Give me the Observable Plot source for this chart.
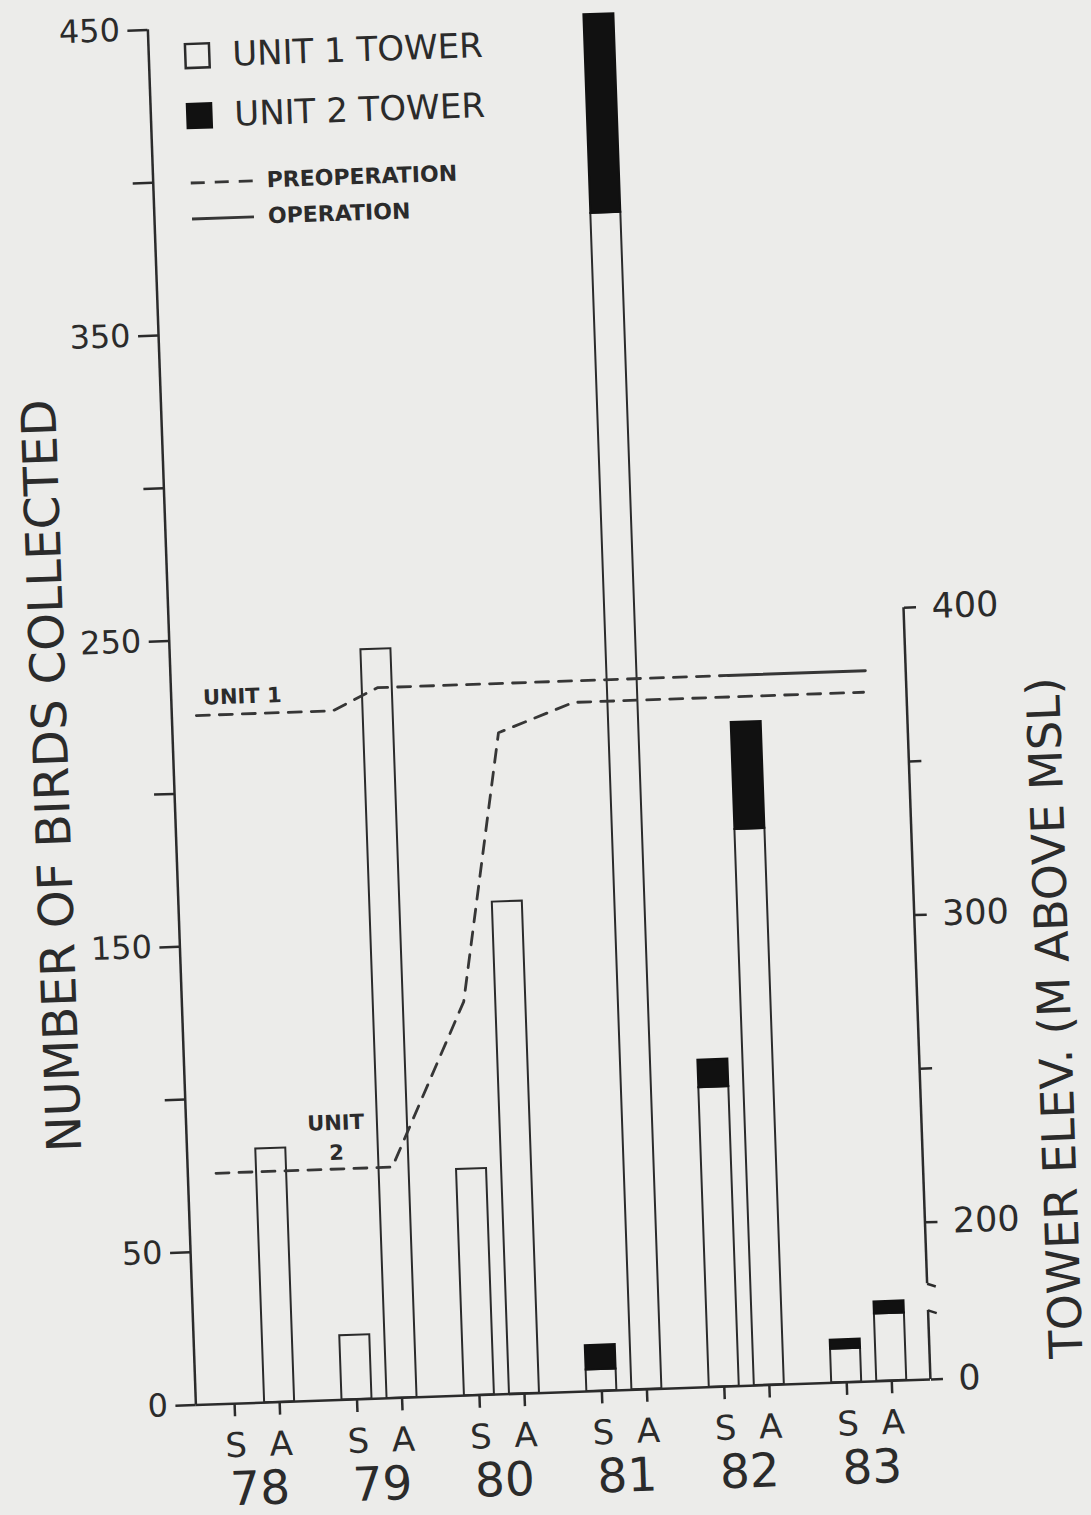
<!DOCTYPE html>
<html>
<head>
<meta charset="utf-8">
<script src="https://cdn.jsdelivr.net/npm/d3@7"></script>
<script src="https://cdn.jsdelivr.net/npm/@observablehq/plot@0.6"></script>
<style>
  html, body { margin: 0; padding: 0; background: #ececea; overflow: hidden; }
  #fig { position: relative; width: 1091px; height: 1515px;
         transform: rotate(-2deg); transform-origin: 545px 757px; }
  #fig svg { overflow: visible; }
  #legend { position: absolute; left: 0; top: 0; }
</style>
</head>
<body>
<div id="fig"></div>
<script>
// ---------------- data ----------------
const years = [78, 79, 80, 81, 82, 83];
const seasons = ["S", "A"];
// birds collected per period: 78S,78A,79S,79A,80S,80A,81S,81A,82S,82A,83S,83A
const unit1Birds = [0, 83, 21, 245, 74, 161, 7, 385, 98, 182, 11, 22];
const unit2Birds = [0, 0, 0, 0, 0, 0, 8, 65, 9, 35, 3, 4];

// tower elevation lines (m above MSL) at positions in fractional years
const unit1PreX    = [77.7, 78.815, 79.185, 82.05];
const unit1PreElev = [373, 373, 380, 380];
const unit1OpX     = [82.05, 83.17];
const unit1OpElev  = [380, 380];
const unit2PreX    = [77.73, 79.17, 79.8, 80.16, 80.78, 83.15];
const unit2PreElev = [224, 224, 277, 364, 373, 373];

// axis ticks
const leftTicks  = [0, 50, 100, 150, 200, 250, 300, 350, 400, 450];
const leftLabels = [0, 50, 150, 250, 350, 450];
const rightTicks  = [0, 200, 250, 300, 350, 400];
const rightLabels = [0, 200, 300, 400];

// line labels (year position, elevation)
const lineLabelText = ["UNIT 1", "UNIT\n2"];
const lineLabelX    = [78.08, 78.72];
const lineLabelElev = [379.6, 235];

const legendLabels = ["UNIT 1 TOWER", "UNIT 2 TOWER", "PREOPERATION", "OPERATION"];
const yTitle = "NUMBER OF BIRDS COLLECTED";
const y2Title = "TOWER ELEV. (M ABOVE MSL)";

// ---------------- scales helpers ----------------
const seasonOffset = 0.184;   // S / A position within a year
const barHalf = 0.1225;       // half bar width (years)
const xDomain = [77.5, 83.5];
// right (elevation) axis drawn on bird scale: 200 m -> 51.4, 400 m -> 252.5, broken below 180 m
const elevB200 = 51.4, elevK = (252.5 - 51.4) / 200;
const elevToY = e => e === 0 ? 0 : elevB200 + (e - 200) * elevK;
const axisBreakLowerTop = 22.6;   // top of the short bottom segment (bird units)
const axisBreakUpperElev = 180;   // bottom of the upper segment (m)

const BG = "#ececea", INK = "#2b2b2b", LINE = "#363636";

const bars = years.flatMap(y => seasons.map(s => ({year: y, season: s})))
  .map((p, i) => ({...p, x: p.year + (p.season === "S" ? -seasonOffset : seasonOffset),
                   u1: unit1Birds[i], u2: unit2Birds[i]}));

const toLine = (xs, es) => xs.map((x, i) => ({x, y: elevToY(es[i])}));
const unit1Pre = toLine(unit1PreX, unit1PreElev);
const unit1Op = toLine(unit1OpX, unit1OpElev);
const unit2Pre = toLine(unit2PreX, unit2PreElev);

const seasonTicks = years.flatMap(y => [y - seasonOffset, y + seasonOffset]);
const seasonLabel = d => (d - Math.floor(d)) > 0.5 ? "S" : "A";
const rightLabelOf = new Map(rightTicks.map(e => [elevToY(e), rightLabels.includes(e) ? String(e) : ""]));

const rightSegments = [
  {y1: 0, y2: axisBreakLowerTop},
  {y1: elevToY(axisBreakUpperElev), y2: elevToY(400)}
];
const breakMarks = [axisBreakLowerTop, elevToY(axisBreakUpperElev)];

const lineLabels = lineLabelText.map((t, i) => ({text: t, x: lineLabelX[i], y: elevToY(lineLabelElev[i])}));

const FONT = "DejaVu Sans";

const chart = Plot.plot({
  width: 1091, height: 1515,
  marginLeft: 173, marginRight: 183, marginTop: 16, marginBottom: 123,
  x: {domain: xDomain, axis: null, label: null},
  y: {domain: [0, 450], axis: null, label: null},
  style: {background: "transparent", fontFamily: FONT, color: INK, overflow: "visible"},
  marks: [
    // bars
    Plot.rectY(bars.filter(d => d.u1 > 0), {
      x1: d => d.x - barHalf, x2: d => d.x + barHalf, y1: 0, y2: "u1",
      fill: BG, stroke: INK, strokeWidth: 2
    }),
    Plot.rectY(bars.filter(d => d.u2 > 0), {
      x1: d => d.x - barHalf, x2: d => d.x + barHalf, y1: "u1", y2: d => d.u1 + d.u2,
      fill: "#111", stroke: "#111", strokeWidth: 2
    }),
    // tower elevation lines
    Plot.line(unit1Pre, {x: "x", y: "y", stroke: LINE, strokeWidth: 2.8, strokeDasharray: "13,10"}),
    Plot.line(unit2Pre, {x: "x", y: "y", stroke: LINE, strokeWidth: 2.8, strokeDasharray: "13,10"}),
    Plot.line(unit1Op, {x: "x", y: "y", stroke: LINE, strokeWidth: 3}),
    // axis lines
    Plot.ruleY([0], {stroke: INK, strokeWidth: 2.5}),
    Plot.ruleX([xDomain[0]], {y1: 0, y2: 450, stroke: INK, strokeWidth: 2.5}),
    Plot.ruleX(rightSegments, {x: xDomain[1], y1: "y1", y2: "y2", stroke: INK, strokeWidth: 2.5}),
    Plot.link(breakMarks, {x1: xDomain[1], x2: xDomain[1] + 0.07, y1: d => d, y2: d => d - 1,
      stroke: INK, strokeWidth: 2.5}),
    // axes
    Plot.axisY({anchor: "left", ticks: leftTicks, tickSize: 20, tickPadding: 8, label: null,
      tickFormat: d => leftLabels.includes(d) ? String(d) : "", fontSize: 32, strokeWidth: 2.5}),
    Plot.axisY({anchor: "right", ticks: rightTicks.map(elevToY), tickSize: 12, tickPadding: 16, label: null,
      tickFormat: d => rightLabelOf.get(d) ?? "", fontSize: 35, strokeWidth: 2.5}),
    Plot.axisX({ticks: seasonTicks, tickSize: 13, tickPadding: 16, label: null,
      tickFormat: seasonLabel, fontSize: 34, strokeWidth: 2.5}),
    Plot.axisX({ticks: years, tickSize: 0, tickPadding: 68, label: null,
      tickFormat: d => String(d), fontSize: 47}),
    // titles
    Plot.text([yTitle], {frameAnchor: "left", rotate: -90, dx: -121, dy: 54,
      textAnchor: "middle", lineAnchor: "middle", fontSize: 48, text: d => d, fill: INK}),
    Plot.text([y2Title], {frameAnchor: "right", rotate: -90, dx: 138, dy: 331,
      textAnchor: "middle", lineAnchor: "middle", fontSize: 46, text: d => d, fill: INK}),
    // line labels
    Plot.text(lineLabels, {x: "x", y: "y", text: "text", fontSize: 21, fontWeight: "bold",
      lineHeight: 1.43, fill: INK})
  ]
});

const fig = document.getElementById("fig");
fig.appendChild(chart);

// legend overlay
const lg = d3.select(fig).append("svg").attr("id", "legend")
  .attr("width", 520).attr("height", 240)
  .style("font-family", FONT).style("fill", INK);
const boxRows = [44, 104];
lg.selectAll("rect.sw").data(legendLabels.slice(0, 2)).join("rect")
  .attr("x", 210).attr("y", (d, i) => boxRows[i] - 12).attr("width", 24).attr("height", 24)
  .attr("fill", (d, i) => i === 0 ? BG : "#111").attr("stroke", (d, i) => i === 0 ? INK : "#111")
  .attr("stroke-width", 2.5);
lg.selectAll("text.big").data(legendLabels.slice(0, 2)).join("text")
  .attr("x", 257).attr("y", (d, i) => boxRows[i] - 1).attr("dy", "0.36em")
  .attr("font-size", 34).text(d => d);
const lineRows = [171, 207];
lg.selectAll("line.sw").data(legendLabels.slice(2)).join("line")
  .attr("x1", 211).attr("x2", 273).attr("y1", (d, i) => lineRows[i]).attr("y2", (d, i) => lineRows[i])
  .attr("stroke", LINE).attr("stroke-width", 2.8)
  .attr("stroke-dasharray", (d, i) => i === 0 ? "14,10" : null);
lg.selectAll("text.small").data(legendLabels.slice(2)).join("text")
  .attr("x", 287).attr("y", (d, i) => lineRows[i] - 1).attr("dy", "0.36em")
  .attr("font-size", 22).attr("font-weight", "bold").text(d => d);
</script>
</body>
</html>
